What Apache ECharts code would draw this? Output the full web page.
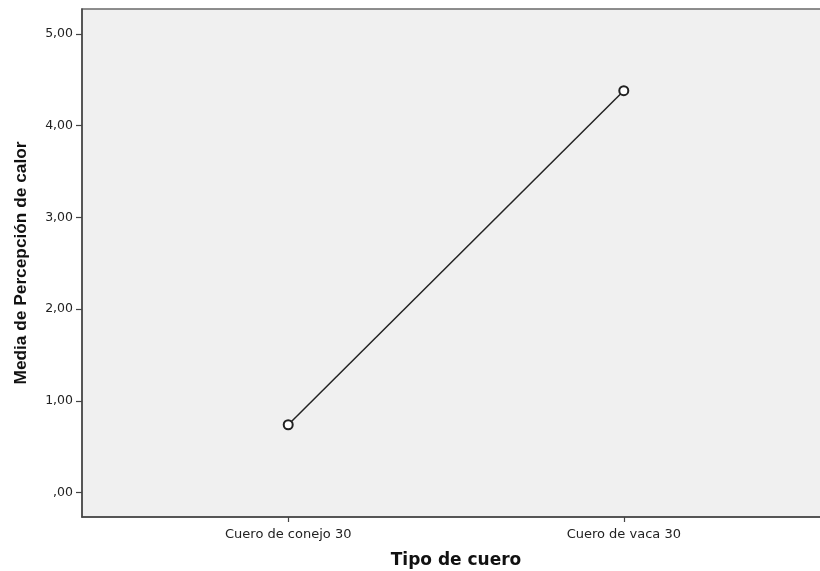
<!DOCTYPE html>
<html>
<head>
<meta charset="utf-8">
<script src="https://cdn.jsdelivr.net/npm/echarts@6/dist/echarts.min.js"></script>
<style>
  html, body { margin: 0; padding: 0; background: #ffffff; overflow: hidden; }
  #chart { width: 820px; height: 571px; }
</style>
</head>
<body>
<div id="chart"></div>
<script>
// Leather types and mean heat-perception scores
const categories = ['Cuero de conejo 30', 'Cuero de vaca 30'];
const meanValues = [0.74, 4.38];
const yTicks = [0, 1, 2, 3, 4, 5];
const xTicks = [1, 2];

const fmtDecimal = v => {
  const s = v.toFixed(2).replace('.', ',');
  return s.startsWith('0,') ? s.slice(1) : s;
};

const chart = echarts.init(document.getElementById('chart'));
chart.setOption({
  animation: false,
  backgroundColor: '#ffffff',
  grid: {
    left: 82, top: 9, width: 748, bottom: 54,
    outerBoundsMode: 'none',
    containLabel: false,
    show: true,
    backgroundColor: '#f0f0f0',
    borderColor: '#6a6a6a',
    borderWidth: 1.5
  },
  xAxis: {
    type: 'value',
    min: 0.3855,
    max: 2.6145,
    splitLine: { show: false },
    axisLine: { show: true, onZero: false, lineStyle: { color: '#444', width: 1.5 } },
    axisTick: { show: true, length: 5, customValues: xTicks, lineStyle: { color: '#444', width: 1.2 } },
    axisLabel: {
      customValues: xTicks,
      formatter: v => categories[Math.round(v) - 1] || '',
      color: '#222',
      fontFamily: 'DejaVu Sans, Verdana, sans-serif',
      fontSize: 13,
      margin: 11
    },
    name: 'Tipo de cuero',
    nameLocation: 'middle',
    nameGap: 35,
    nameTextStyle: {
      fontFamily: 'DejaVu Sans, Verdana, sans-serif',
      fontWeight: 'bold',
      fontSize: 17,
      color: '#111'
    }
  },
  yAxis: {
    type: 'value',
    min: -0.265,
    max: 5.27,
    splitLine: { show: false },
    axisLine: { show: true, onZero: false, lineStyle: { color: '#444', width: 1.5 } },
    axisTick: { show: true, length: 6, customValues: yTicks, lineStyle: { color: '#444', width: 1.2 } },
    axisLabel: {
      customValues: yTicks,
      formatter: fmtDecimal,
      color: '#222',
      fontFamily: 'DejaVu Sans, Verdana, sans-serif',
      fontSize: 12.5,
      margin: 9
    },
    name: 'Media de Percepción de calor',
    nameLocation: 'middle',
    nameRotate: 90,
    nameGap: 52,
    nameTextStyle: {
      fontFamily: 'Liberation Sans, Arial, sans-serif',
      fontWeight: 'bold',
      fontSize: 17.3,
      color: '#111'
    }
  },
  series: [{
    type: 'line',
    data: meanValues.map((v, i) => [xTicks[i], v]),
    symbol: 'emptyCircle',
    symbolSize: 9,
    lineStyle: { color: '#222', width: 1.5 },
    itemStyle: { color: '#222', borderColor: '#222', borderWidth: 1.2 },
    z: 3
  }]
});
</script>
</body>
</html>
